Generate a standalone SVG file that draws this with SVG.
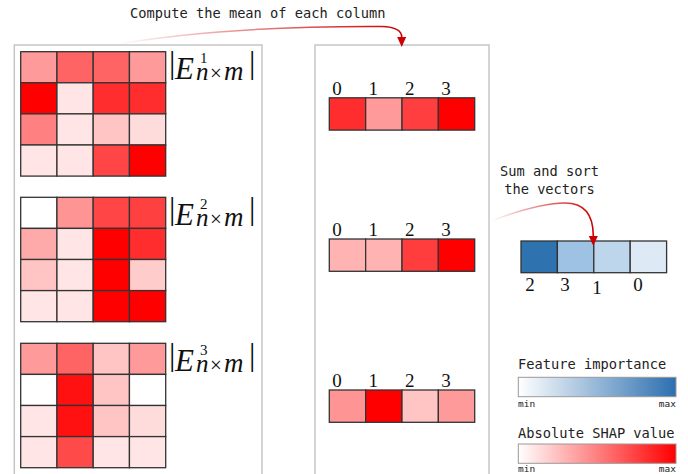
<svg xmlns="http://www.w3.org/2000/svg" width="688" height="474" viewBox="0 0 688 474">
<style>
.panel{fill:#fff;stroke:#c6c6c6;stroke-width:1.5}
.c rect{stroke:#333;stroke-width:1.3}
.mono{font-family:"DejaVu Sans Mono","Liberation Mono",monospace;fill:#222}
.t{font-size:13.7px}
.s{font-size:9.5px}
.dig{font-family:"Liberation Serif","DejaVu Serif",serif;font-size:19px;fill:#111;text-anchor:middle}
.lab{font-family:"Liberation Serif","DejaVu Serif",serif;fill:#111}
.i{font-style:italic}
.lg{stroke:#999;stroke-width:1}
.conn{fill:none;stroke-width:1.6}
</style>
<defs>
<linearGradient id="gBlue" x1="0" x2="1" y1="0" y2="0"><stop offset="0" stop-color="#ffffff"/><stop offset="1" stop-color="#2c6fb0"/></linearGradient>
<linearGradient id="gRed" x1="0" x2="1" y1="0" y2="0"><stop offset="0" stop-color="#ffffff"/><stop offset="1" stop-color="#ff0000"/></linearGradient>
<linearGradient id="a1" gradientUnits="userSpaceOnUse" x1="118" y1="0" x2="400" y2="0"><stop offset="0" stop-color="#cc0000" stop-opacity="0"/><stop offset="1" stop-color="#cc0000"/></linearGradient>
<linearGradient id="a2" gradientUnits="userSpaceOnUse" x1="491" y1="0" x2="593" y2="0"><stop offset="0" stop-color="#cc0000" stop-opacity="0"/><stop offset="1" stop-color="#cc0000"/></linearGradient>
<marker id="head" markerUnits="userSpaceOnUse" markerWidth="12" markerHeight="10" refX="0" refY="4.5" orient="auto" overflow="visible"><path d="M0,0 L10,4.5 L0,9 Z" fill="#cc0000"/></marker>
</defs>

<rect class="panel" x="14.3" y="45" width="247.7" height="440"/>
<rect class="panel" x="315" y="45" width="174" height="440"/>

<text class="mono t" x="130" y="17.5">Compute the mean of each column</text>
<text class="mono t" x="549.5" y="176" text-anchor="middle">Sum and sort</text>
<text class="mono t" x="549.5" y="194" text-anchor="middle">the vectors</text>

<g id="matrix1" class="c">
<rect x="20.7" y="51.7" width="36.25" height="31.1" fill="#ff9a9a"/>
<rect x="56.95" y="51.7" width="36.25" height="31.1" fill="#ff6464"/>
<rect x="93.2" y="51.7" width="36.25" height="31.1" fill="#ff6464"/>
<rect x="129.45" y="51.7" width="36.25" height="31.1" fill="#ff9a9a"/>
<rect x="20.7" y="82.8" width="36.25" height="31.1" fill="#ff0000"/>
<rect x="56.95" y="82.8" width="36.25" height="31.1" fill="#ffe5e5"/>
<rect x="93.2" y="82.8" width="36.25" height="31.1" fill="#ff2d2d"/>
<rect x="129.45" y="82.8" width="36.25" height="31.1" fill="#ff2d2d"/>
<rect x="20.7" y="113.9" width="36.25" height="31.1" fill="#ff8080"/>
<rect x="56.95" y="113.9" width="36.25" height="31.1" fill="#ffe5e5"/>
<rect x="93.2" y="113.9" width="36.25" height="31.1" fill="#ffc5c5"/>
<rect x="129.45" y="113.9" width="36.25" height="31.1" fill="#ffdcdc"/>
<rect x="20.7" y="145" width="36.25" height="31.1" fill="#ffe5e5"/>
<rect x="56.95" y="145" width="36.25" height="31.1" fill="#ffe5e5"/>
<rect x="93.2" y="145" width="36.25" height="31.1" fill="#ff4545"/>
<rect x="129.45" y="145" width="36.25" height="31.1" fill="#ff0000"/>
<text class="lab" y="73"><tspan x="169" font-size="32">|</tspan><tspan class="i" x="175" y="78.5" font-size="31">E</tspan><tspan x="200" y="62.5" font-size="15">1</tspan><tspan class="i" x="196" y="80" font-size="25">n</tspan><tspan x="210" font-size="21">×</tspan><tspan class="i" x="224" font-size="27">m</tspan><tspan x="249" y="73" font-size="32">|</tspan></text>
</g>

<g id="matrix2" class="c">
<rect x="20.7" y="197.3" width="36.25" height="31.1" fill="#ffffff"/>
<rect x="56.95" y="197.3" width="36.25" height="31.1" fill="#ff9494"/>
<rect x="93.2" y="197.3" width="36.25" height="31.1" fill="#ff4545"/>
<rect x="129.45" y="197.3" width="36.25" height="31.1" fill="#ff4040"/>
<rect x="20.7" y="228.4" width="36.25" height="31.1" fill="#ffaaaa"/>
<rect x="56.95" y="228.4" width="36.25" height="31.1" fill="#ffe5e5"/>
<rect x="93.2" y="228.4" width="36.25" height="31.1" fill="#ff0000"/>
<rect x="129.45" y="228.4" width="36.25" height="31.1" fill="#ff2d2d"/>
<rect x="20.7" y="259.5" width="36.25" height="31.1" fill="#ffc5c5"/>
<rect x="56.95" y="259.5" width="36.25" height="31.1" fill="#ffe5e5"/>
<rect x="93.2" y="259.5" width="36.25" height="31.1" fill="#ff0000"/>
<rect x="129.45" y="259.5" width="36.25" height="31.1" fill="#ffcccc"/>
<rect x="20.7" y="290.6" width="36.25" height="31.1" fill="#ffe5e5"/>
<rect x="56.95" y="290.6" width="36.25" height="31.1" fill="#ffe5e5"/>
<rect x="93.2" y="290.6" width="36.25" height="31.1" fill="#ff0000"/>
<rect x="129.45" y="290.6" width="36.25" height="31.1" fill="#ff0000"/>
<text class="lab" y="219"><tspan x="169" font-size="32">|</tspan><tspan class="i" x="175" y="224.5" font-size="31">E</tspan><tspan x="200" y="208.5" font-size="15">2</tspan><tspan class="i" x="196" y="226" font-size="25">n</tspan><tspan x="210" font-size="21">×</tspan><tspan class="i" x="224" font-size="27">m</tspan><tspan x="249" y="219" font-size="32">|</tspan></text>
</g>

<g id="matrix3" class="c">
<rect x="20.7" y="343.3" width="36.25" height="31.1" fill="#ff9a9a"/>
<rect x="56.95" y="343.3" width="36.25" height="31.1" fill="#ff6464"/>
<rect x="93.2" y="343.3" width="36.25" height="31.1" fill="#ffc5c5"/>
<rect x="129.45" y="343.3" width="36.25" height="31.1" fill="#ff9a9a"/>
<rect x="20.7" y="374.4" width="36.25" height="31.1" fill="#ffffff"/>
<rect x="56.95" y="374.4" width="36.25" height="31.1" fill="#ff1111"/>
<rect x="93.2" y="374.4" width="36.25" height="31.1" fill="#ffc5c5"/>
<rect x="129.45" y="374.4" width="36.25" height="31.1" fill="#ffffff"/>
<rect x="20.7" y="405.5" width="36.25" height="31.1" fill="#ffe5e5"/>
<rect x="56.95" y="405.5" width="36.25" height="31.1" fill="#ff1111"/>
<rect x="93.2" y="405.5" width="36.25" height="31.1" fill="#ffc5c5"/>
<rect x="129.45" y="405.5" width="36.25" height="31.1" fill="#ffdcdc"/>
<rect x="20.7" y="436.6" width="36.25" height="31.1" fill="#ffe5e5"/>
<rect x="56.95" y="436.6" width="36.25" height="31.1" fill="#ff4a4a"/>
<rect x="93.2" y="436.6" width="36.25" height="31.1" fill="#ffe5e5"/>
<rect x="129.45" y="436.6" width="36.25" height="31.1" fill="#ffe5e5"/>
<text class="lab" y="365"><tspan x="169" font-size="32">|</tspan><tspan class="i" x="175" y="370.5" font-size="31">E</tspan><tspan x="200" y="354.5" font-size="15">3</tspan><tspan class="i" x="196" y="372" font-size="25">n</tspan><tspan x="210" font-size="21">×</tspan><tspan class="i" x="224" font-size="27">m</tspan><tspan x="249" y="365" font-size="32">|</tspan></text>
</g>

<g id="vec1" class="c">
<rect x="329.3" y="97.8" width="36.35" height="32.3" fill="#ff2d2d"/>
<rect x="365.65" y="97.8" width="36.35" height="32.3" fill="#ff9a9a"/>
<rect x="402" y="97.8" width="36.35" height="32.3" fill="#ff3f3f"/>
<rect x="438.35" y="97.8" width="36.35" height="32.3" fill="#ff0000"/>
<text class="dig" x="337" y="95">0</text><text class="dig" x="373.3" y="95">1</text><text class="dig" x="409.7" y="95">2</text><text class="dig" x="446" y="95">3</text>
</g>

<g id="vec2" class="c">
<rect x="329.3" y="239" width="36.35" height="32.3" fill="#ffb3b3"/>
<rect x="365.65" y="239" width="36.35" height="32.3" fill="#ffb3b3"/>
<rect x="402" y="239" width="36.35" height="32.3" fill="#ff3d3d"/>
<rect x="438.35" y="239" width="36.35" height="32.3" fill="#ff0000"/>
<text class="dig" x="337" y="236">0</text><text class="dig" x="373.3" y="236">1</text><text class="dig" x="409.7" y="236">2</text><text class="dig" x="446" y="236">3</text>
</g>

<g id="vec3" class="c">
<rect x="329.3" y="390" width="36.35" height="32.3" fill="#ff9494"/>
<rect x="365.65" y="390" width="36.35" height="32.3" fill="#ff0000"/>
<rect x="402" y="390" width="36.35" height="32.3" fill="#ffc5c5"/>
<rect x="438.35" y="390" width="36.35" height="32.3" fill="#ff9a9a"/>
<text class="dig" x="337" y="387">0</text><text class="dig" x="373.3" y="387">1</text><text class="dig" x="409.7" y="387">2</text><text class="dig" x="446" y="387">3</text>
</g>

<g id="sorted" class="c">
<rect x="521" y="241" width="36.4" height="31.7" fill="#2e72b0"/>
<rect x="557.4" y="241" width="36.4" height="31.7" fill="#9dc2e3"/>
<rect x="593.8" y="241" width="36.4" height="31.7" fill="#bdd6ec"/>
<rect x="630.2" y="241" width="36.4" height="31.7" fill="#dde9f5"/>
<text class="dig" x="530" y="291" font-size="17">2</text><text class="dig" x="565" y="291" font-size="17">3</text><text class="dig" x="597" y="294" font-size="17">1</text><text class="dig" x="638" y="291" font-size="17">0</text>
</g>

<g id="legend-importance">
<text class="mono t" x="518" y="369.3">Feature importance</text>
<rect class="lg" x="518.3" y="377.3" width="157.7" height="19.4" fill="url(#gBlue)"/>
<text class="mono s" x="518" y="406.5">min</text>
<text class="mono s" x="676" y="406.5" text-anchor="end">max</text>
</g>

<g id="legend-shap">
<text class="mono t" x="518" y="438.3">Absolute SHAP value</text>
<rect class="lg" x="518.3" y="444" width="157.7" height="19.3" fill="url(#gRed)"/>
<text class="mono s" x="518" y="471.5">min</text>
<text class="mono s" x="676" y="471.5" text-anchor="end">max</text>
</g>

<g id="connectors">
<path class="conn" stroke="url(#a1)" d="M118,44 C190,32 280,26 382,26.5 C396,27 401.7,31 401.7,37" marker-end="url(#head)"/>
<path class="conn" stroke="url(#a2)" d="M491,221 C520,210 545,203 565,203 C584,203 593.3,214 593.3,236" marker-end="url(#head)"/>
</g>
</svg>
